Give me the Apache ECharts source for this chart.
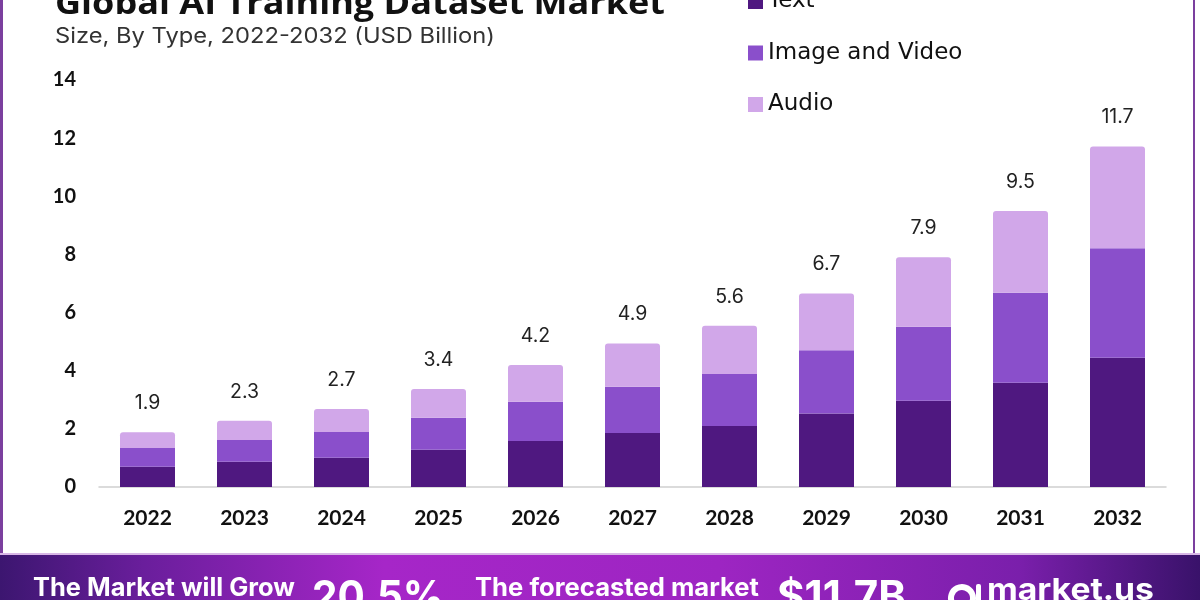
<!DOCTYPE html>
<html><head><meta charset="utf-8">
<script src="https://cdn.jsdelivr.net/npm/echarts@6/dist/echarts.min.js"></script>
<style>html,body{margin:0;padding:0;background:#fff}#c{width:1200px;height:600px}</style>
</head><body><div id="c"></div>
<script>
const years = ['2022','2023','2024','2025','2026','2027','2028','2029','2030','2031','2032'];
const textValues = [0.70,0.87,1.01,1.28,1.58,1.86,2.10,2.53,2.97,3.59,4.45];
const imageVideoValues = [0.64,0.75,0.88,1.10,1.35,1.59,1.79,2.17,2.54,3.09,3.76];
const audioValues = [0.54,0.66,0.79,0.99,1.27,1.49,1.66,1.96,2.39,2.81,3.50];
const totalLabels = ['1.9','2.3','2.7','3.4','4.2','4.9','5.6','6.7','7.9','9.5','11.7'];
const seriesNames = ['Text','Image and Video','Audio'];
const titleText = 'Global AI Training Dataset Market';
const subtitleText = 'Size, By Type, 2022-2032 (USD Billion)';
const bannerGrowText = 'The Market will Grow';
const bannerCagr = '20.5%';
const bannerForecastText = 'The forecasted market';
const bannerValue = '$11.7B';
const brandText = 'market.us';

const mctx = document.createElement('canvas').getContext('2d');
function fitScale(text, weight, size, family, target){
  mctx.font = weight + ' ' + size + 'px ' + family;
  return target / mctx.measureText(text).width;
}
function txt(text, x, y, size, weight, family, color, target){
  const s = target ? fitScale(text, weight, size, family, target) : 1;
  return {type:'text', x:x, y:y, scaleX:s, z:10,
    style:{text:text, x:0, y:0, fontSize:size, fontWeight:weight, fontFamily:family,
      fill:color, align:'left', verticalAlign:'middle'}};
}

const chart = echarts.init(document.getElementById('c'));
const colors = ['#4f1880','#8a4fcb','#d1a7e9'];
chart.setOption({
  animation:false,
  backgroundColor:'#ffffff',
  color: colors,
  legend:{
    data: seriesNames, orient:'vertical', left:748, top:-10, padding:0,
    icon:'rect', itemWidth:15, itemHeight:15, itemGap:28.5,
    textStyle:{fontSize:23, fontFamily:'DejaVu Sans', color:'#111', lineHeight:22}
  },
  grid:{left:99, right:34, top:80, bottom:113},
  xAxis:{
    type:'category', data: years,
    axisLine:{lineStyle:{color:'#cfcfcf', width:1.5}},
    axisTick:{show:false},
    axisLabel:{fontSize:21, fontWeight:'bold', fontFamily:'Lato', color:'#111', margin:21}
  },
  yAxis:{
    type:'value', min:0, max:14, interval:2,
    axisLine:{show:false}, axisTick:{show:false}, splitLine:{show:false},
    axisLabel:{fontSize:20, fontWeight:'bold', fontFamily:'Lato', color:'#111', margin:23}
  },
  series:[
    {name:seriesNames[0], type:'bar', stack:'t', barWidth:55, data:textValues},
    {name:seriesNames[1], type:'bar', stack:'t', barWidth:55, data:imageVideoValues},
    {name:seriesNames[2], type:'bar', stack:'t', barWidth:55, data:audioValues,
      itemStyle:{borderRadius:[3,3,0,0]},
      label:{show:true, position:'top', distance:19, fontSize:19.5, fontFamily:'Inter', color:'#222',
        formatter:p=>totalLabels[p.dataIndex]}}
  ],
  graphic:[
    {type:'rect', z:5, shape:{x:0,y:0,width:3,height:555}, style:{fill:'#7b3f9e'}},
    {type:'rect', z:5, shape:{x:1193,y:0,width:2,height:555}, style:{fill:'#7b3f9e'}},
    {type:'rect', z:5, shape:{x:0,y:553,width:1200,height:2}, style:{fill:'#d8b6e6'}},
    {type:'rect', z:5, shape:{x:0,y:555,width:1200,height:45},
      style:{fill:new echarts.graphic.LinearGradient(0,0,1,0,[
        {offset:0,color:'#3c1670'},{offset:0.12,color:'#6a1e9c'},{offset:0.32,color:'#a626c8'},
        {offset:0.6,color:'#9d25c2'},{offset:0.85,color:'#7a1fab'},{offset:1,color:'#39126a'}])}},
    txt(titleText, 55, 5, 32, 'bold', 'Open Sans', '#111', 610),
    txt(subtitleText, 55, 37, 21, 'normal', 'Inter', '#333', 440),
    txt(bannerGrowText, 33, 588, 25, 'bold', 'Inter', '#fff', 262),
    txt(bannerCagr, 312, 598, 42, 'bold', 'Inter', '#fff', 132),
    txt(bannerForecastText, 475, 588, 25, 'bold', 'Inter', '#fff', 284),
    txt(bannerValue, 777, 598, 42, 'bold', 'Inter', '#fff', 129),
    {type:'arc', z:10, shape:{cx:962, cy:598, r:11, startAngle:Math.PI*0.6, endAngle:Math.PI*2.15, clockwise:true},
      style:{stroke:'#fff', lineWidth:6, fill:null}},
    {type:'rect', z:10, shape:{x:976,y:584,width:5,height:20,r:2}, style:{fill:'#fff'}},
    txt(brandText, 987, 591, 30, 'bold', 'Inter', '#fff', 167)
  ]
});
</script></body></html>
